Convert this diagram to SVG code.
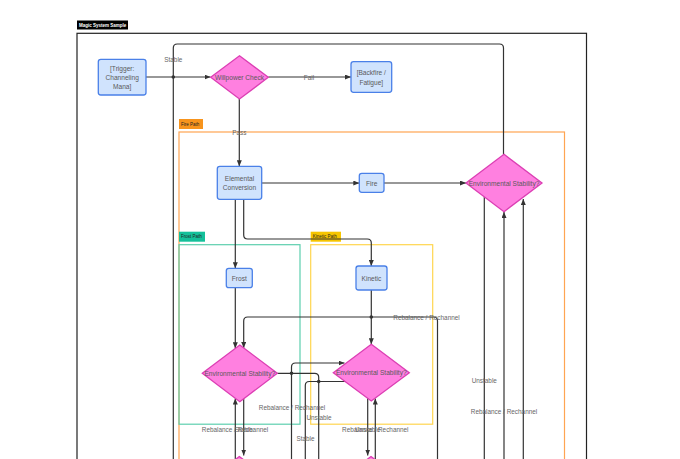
<svg xmlns="http://www.w3.org/2000/svg" width="680" height="459" viewBox="0 0 680 459">
<defs>
<marker id="arr" markerUnits="userSpaceOnUse" markerWidth="6" markerHeight="5" refX="6" refY="2.5" orient="auto">
<path d="M0,0 L6,2.5 L0,5 z" fill="#333"/>
</marker>
<style>
.frame{fill:none;stroke-width:1.2}
.node rect{fill:#d0e3fd;stroke:#4a80e8;stroke-width:1.3}
.node polygon{fill:#ff80e0;stroke:#dc3fb4;stroke-width:1.3}
.nt{font-family:"Liberation Sans",Arial,sans-serif;font-size:6.6px;fill:#5a5a5a;text-anchor:middle;dominant-baseline:central}
.el{font-family:"Liberation Sans",Arial,sans-serif;font-size:6.4px;fill:#666;text-anchor:middle;dominant-baseline:central}
.tag{font-family:"Liberation Sans",Arial,sans-serif;font-size:4.5px;fill:#222;dominant-baseline:central}
.edge{fill:none;stroke:#333;stroke-width:1.2}
.arrow{marker-end:url(#arr)}
.dot{fill:#333}
</style>
</defs>
<rect width="680" height="459" fill="#fff"/>

<g id="title">
<rect x="77" y="20.5" width="51" height="9" fill="#000"/>
<text x="79" y="25" class="tag" style="fill:#fff;font-weight:bold">Magic System Sample</text>
</g>
<rect id="outer-frame" class="frame" x="77" y="33.3" width="509.5" height="600" stroke="#222"/>

<g id="fire-path">
<rect class="frame" x="179" y="132" width="385.5" height="500" stroke="#ffa552"/>
<rect x="179" y="119" width="24" height="10" fill="#f7941d"/>
<text x="181" y="124" class="tag">Fire Path</text>
</g>
<g id="frost-path">
<rect class="frame" x="179" y="244.7" width="121" height="179.5" stroke="#5dcfae"/>
<rect x="179" y="231.7" width="26" height="10" fill="#14c09a"/>
<text x="181" y="236.7" class="tag">Frost Path</text>
</g>
<g id="kinetic-path">
<rect class="frame" x="310.7" y="244.7" width="122" height="179.5" stroke="#ffd54f"/>
<rect x="310.7" y="231.7" width="30.3" height="10" fill="#f6c500"/>
<text x="312.7" y="236.7" class="tag">Kinetic Path</text>
</g>

<g id="connectors">
<path class="edge arrow" d="M146,77 H210.5"/>
<path class="edge" d="M503.5,154.5 V48 Q503.5,44 499.5,44 H177.3 Q173.3,44 173.3,48 V77"/>
<path class="edge" d="M173.3,460 V77"/>
<circle class="dot" cx="173.3" cy="77" r="1.8"/>
<path class="edge arrow" d="M268.3,77 H351"/>
<path class="edge arrow" d="M239.3,99 V166.3"/>
<path class="edge arrow" d="M261.7,183 H359.3"/>
<path class="edge arrow" d="M384,183 H466"/>
<path class="edge arrow" d="M235.3,199.3 V268.3"/>
<path class="edge arrow" d="M243.7,199.3 V235 Q243.7,239 247.7,239 H367.3 Q371.3,239 371.3,243 V266"/>
<path class="edge arrow" d="M235.3,287.7 V348.3"/>
<path class="edge arrow" d="M371.3,290 V344.3"/>
<path class="edge arrow" d="M437.5,460 V321 Q437.5,317 433.5,317 H247.7 Q243.7,317 243.7,321 V348"/>
<circle class="dot" cx="371.3" cy="317" r="1.8"/>
<path class="edge" d="M277.3,373.3 H314.7 Q318.7,373.3 318.7,377.3 V460"/>
<circle class="dot" cx="291.5" cy="373.3" r="1.8"/>
<path class="edge arrow" d="M291.5,460 V367 Q291.5,363 295.5,363 H344.5"/>
<path class="edge" d="M346,381.5 H309.3 Q305.3,381.5 305.3,385.5 V460"/>
<circle class="dot" cx="318.7" cy="381.5" r="1.8"/>
<path class="edge arrow" d="M235.3,460 V398.5"/>
<path class="edge arrow" d="M243.7,398 V455.5"/>
<path class="edge arrow" d="M367.7,398 V455.5"/>
<path class="edge arrow" d="M375.3,460 V398.5"/>
<path class="edge" d="M484.3,197 V460"/>
<path class="edge arrow" d="M504,460 V212"/>
<path class="edge arrow" d="M523.3,460 V199"/>

<text class="el" x="173.3" y="59">Stable</text>
<text class="el" x="309" y="77">Fail</text>
<text class="el" x="239.3" y="132.5">Pass</text>
<text class="el" x="426.5" y="317">Rebalance / Rechannel</text>
<text class="el" x="292" y="407">Rebalance / Rechannel</text>
<text class="el" x="319" y="417">Unstable</text>
<text class="el" x="305.5" y="438.3">Stable</text>
<text class="el" x="235" y="429.5">Rebalance / Rechannel</text>
<text class="el" x="243.7" y="429.5">Stable</text>
<text class="el" x="375.3" y="429.5">Rebalance / Rechannel</text>
<text class="el" x="367.7" y="429.5">Unstable</text>
<text class="el" x="484.3" y="380.3">Unstable</text>
<text class="el" x="504" y="411.7">Rebalance / Rechannel</text>
</g>

<g id="trigger" class="node">
<rect x="98.3" y="59.3" width="47.7" height="35.7" rx="2.5"/>
<text class="nt" x="122.2" y="68.7">[Trigger:</text>
<text class="nt" x="122.2" y="77.7">Channeling</text>
<text class="nt" x="122.2" y="86.7">Mana]</text>
</g>
<g id="willpower" class="node">
<polygon points="239.5,55.7 268.3,77.3 239.5,99 210.7,77.3"/>
<text class="nt" x="239.5" y="77.3">Willpower Check</text>
</g>
<g id="backfire" class="node">
<rect x="351" y="61.7" width="40.7" height="30.6" rx="2.5"/>
<text class="nt" x="371.3" y="72.7">[Backfire /</text>
<text class="nt" x="371.3" y="82">Fatigue]</text>
</g>
<g id="elemental" class="node">
<rect x="217.3" y="166.3" width="44.4" height="33" rx="2.5"/>
<text class="nt" x="239.5" y="178.3">Elemental</text>
<text class="nt" x="239.5" y="187.7">Conversion</text>
</g>
<g id="fire" class="node">
<rect x="359.3" y="173.3" width="24.7" height="19" rx="2.5"/>
<text class="nt" x="371.7" y="183">Fire</text>
</g>
<g id="fire-env" class="node">
<polygon points="504,154.3 542,183 504,211.7 466,183"/>
<text class="nt" x="504" y="183">Environmental Stability?</text>
</g>
<g id="frost" class="node">
<rect x="226.3" y="268.3" width="26" height="19.4" rx="2.5"/>
<text class="nt" x="239.3" y="278">Frost</text>
</g>
<g id="kinetic" class="node">
<rect x="356" y="266" width="31" height="24" rx="2.5"/>
<text class="nt" x="371.5" y="278">Kinetic</text>
</g>
<g id="frost-env" class="node">
<polygon points="239.8,345 277.3,373.3 239.8,401.7 202.3,373.3"/>
<text class="nt" x="239.8" y="373.3">Environmental Stability?</text>
</g>
<g id="kinetic-env" class="node">
<polygon points="371.3,344.3 409.3,372.7 371.3,401 333.3,372.7"/>
<text class="nt" x="371.3" y="372.7">Environmental Stability?</text>
</g>
<g id="frost-next" class="node">
<polygon points="239.3,456.5 277,484.8 239.3,513 201.6,484.8"/>
</g>
<g id="kinetic-next" class="node">
<polygon points="371,456.5 408.7,484.8 371,513 333.3,484.8"/>
</g>
</svg>
